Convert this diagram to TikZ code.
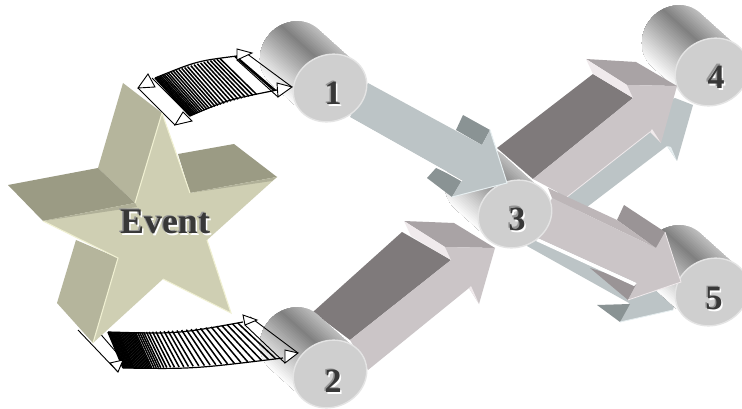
\documentclass[tikz,border=0pt]{standalone}
\usepackage{fontspec}
\setmainfont{Liberation Serif}
\definecolor{starfront}{HTML}{CFCFB3}
\definecolor{startop}{HTML}{B5B59C}
\definecolor{starside}{HTML}{9B9B84}
\definecolor{staredge}{HTML}{F0F0D2}
\definecolor{starband}{HTML}{B0B098}
\definecolor{bluefront}{HTML}{BCC4C6}
\definecolor{blueside}{HTML}{8A9394}
\definecolor{blueedge}{HTML}{E6EEF0}
\definecolor{pinkfront}{HTML}{CBC5C7}
\definecolor{pinkdark}{HTML}{7F7A7B}
\definecolor{pinkhead}{HTML}{A9A3A5}
\definecolor{pinkside}{HTML}{9A9496}
\definecolor{pinkband}{HTML}{BDB6B8}
\definecolor{pinkedge}{HTML}{F0EAEC}
\definecolor{cylface}{HTML}{CFCFCF}
\definecolor{cylrim}{HTML}{E4E4E4}
\tikzset{
  rimline/.style={draw=cylrim,fill=cylface,line width=1.4pt},
  ribbar/.style={draw=black,line width=0.9pt,line join=miter},
  ribtip/.style={draw=black,fill=white,line width=0.9pt},
  ribline/.style={draw=black,line width=1.5pt},
  ribedge/.style={draw=black,line width=1.2pt},
  txtfont/.style={font=\bfseries\fontsize{#1}{#1}\selectfont,inner sep=0pt},
}
% cylinder body: the front face is centred on (cx,cy)
\newcommand{\cylbody}[2]{%
  \begin{scope}[shift={(#1,#2)},rotate=48]
    \clip (36pt,0pt) -- (36pt,48pt) arc[start angle=0,end angle=180,x radius=36pt,y radius=33pt] -- (-36pt,0pt) -- cycle;
    \foreach \i in {0,...,37}{
      \pgfmathsetmacro{\tt}{\i/37}
      \pgfmathsetmacro{\lev}{\tt<0.3 ? 0.74-0.24*\tt/0.3 : 0.5+0.5*(\tt-0.3)/0.7}
      \pgfmathsetmacro{\pct}{100*(1-\lev)}
      \pgfmathsetmacro{\xx}{36-72*\tt}
      \fill[black!\pct!white] (\xx pt,-8pt) rectangle (-42pt,90pt);
    }
  \end{scope}}
\newcommand{\cylface}[2]{%
  \path[rimline,shift={(#1,#2)},rotate=25] (0pt,0pt) ellipse[x radius=37.5pt,y radius=33pt];}
% label with its two shadows
\newcommand{\shadowlabel}[5]{% name, x, y, size, text
  \node[txtfont=#4,text=white] (#1w) at (#2+1.5,#3+2) {#5};
  \node[txtfont=#4,text=black!42] (#1g) at (#2-1.5,#3-1.2) {#5};
  \node[txtfont=#4,text=black!78] (#1) at (#2,#3) {#5};}
% ribbon: upper curve P0 P1 P2, lower curve Q0 Q1 Q2, list of t
\newcommand{\ribbon}[7]{%
  \foreach \t in {#7}{
    \path (#1) coordinate (pa) (#2) coordinate (pb) (#3) coordinate (pc)
          (#4) coordinate (qa) (#5) coordinate (qb) (#6) coordinate (qc);
    \draw[ribline]
      ($(pa)!\t!(pb)!\t!($(pb)!\t!(pc)$)$) -- ($(qa)!\t!(qb)!\t!($(qb)!\t!(qc)$)$);
  }
  \draw[ribedge] (#1) .. controls (#2) .. (#3);
  \draw[ribedge] (#4) .. controls (#5) .. (#6);}
\usetikzlibrary{calc}
\begin{document}
\begin{tikzpicture}[x=1pt,y=-1pt]
\clip (0,0) rectangle (742,409);
\fill[white] (0,0) rectangle (742,409);

% blue arrow towards 4 (behind)
\fill[bluefront] (530,225) -- (587,207) -- (667,146) -- (677,161) -- (693,105) -- (675,98) -- (640,110) -- (560,190) -- cycle;
\fill[blueedge] (667,146) -- (677,161) -- (671,147) -- cycle;
% blue arrow towards 5 (behind)
\fill[bluefront] (533,235) -- (527,246) -- (629,303) -- (620,322) -- (673,310) -- (680,282) -- (640,260) -- cycle;
\fill[blueside] (597,305) -- (630,304) -- (620,322) -- cycle;
\draw[blueedge,line width=0.8pt] (620,322) -- (673,310);

\cylbody{712}{72}
\cylface{712}{72}
\cylbody{712}{292}
\cylface{712}{292}

% arrow 3 -> 4
\fill[pinkdark] (593,74) -- (633,98) -- (533,179) -- (497,148) -- cycle;
\fill[pinkhead] (586,59) -- (636,62) -- (677,86) -- (627,85) -- cycle;
\fill[pinkedge] (586,59) -- (627,85) -- (633,98) -- (593,74) -- cycle;
\fill[pinkfront] (677,86) -- (627,85) -- (633,98) -- (533,179) -- (567,197) -- (650,132) -- (661,143) -- cycle;
\fill[pinkedge] (650,132) -- (661,143) -- (652,129) -- cycle;
\draw[pinkedge,line width=0.8pt] (567,197) -- (650,132);

% arrow 2 -> 3
\fill[pinkdark] (402,232) -- (451,260) -- (350,340) -- (313,312) -- cycle;
\fill[pinkhead] (404,221) -- (454,223) -- (495,248) -- (445,247) -- cycle;
\fill[pinkedge] (404,221) -- (445,247) -- (451,260) -- (411,236) -- cycle;
\fill[pinkfront] (495,248) -- (445,247) -- (451,260) -- (350,340) -- (368,370) -- (469,288) -- (479,304) -- cycle;
\fill[pinkedge] (469,288) -- (479,304) -- (471,286) -- cycle;

% arrow 3 -> 5
\fill[pinkside] (624,205) -- (665,232) -- (656,248) -- (617,220) -- cycle;
\fill[pinkside] (590,268) -- (637,283) -- (628,300) -- cycle;
\fill[pinkband] (548,188) -- (617,220) -- (656,248) -- (552,198) -- cycle;
\fill[white] (538,238) -- (637,283) -- (634,286) -- (536,241) -- cycle;
\fill[pinkfront] (552,198) -- (656,248) -- (665,232) -- (681,282) -- (628,300) -- (637,283) -- (538,238) -- cycle;
\draw[pinkedge,line width=0.8pt] (665,232) -- (681,282) -- (628,300);

\cylbody{515}{214}
\cylface{515}{214}

% arrow 1 -> 3
\fill[blueside] (463,115) -- (490,130) -- (482,145) -- (456,130) -- cycle;
\fill[blueside] (436,168) -- (462,180) -- (452,197) -- (427,178) -- cycle;
\fill[bluefront] (368,83) -- (482,145) -- (490,130) -- (507,183) -- (452,197) -- (462,180) -- (350,117) -- cycle;
\draw[blueedge,line width=1pt] (490,130) -- (507,183) -- (452,197);
\draw[white,line width=1pt] (350,118) -- (462,181);

\cylbody{330}{88}
\cylface{330}{88}
\cylbody{330}{374}
\cylface{330}{374}

% upper ribbon
\draw[ribbar] (138,88) -- (175,125) (152,78) -- (190,116);
\ribbon{155,78}{197,61}{237,56}{190,116}{227,100}{277,90}{0,0.012,0.025,0.04,0.055,0.07,0.09,0.11,0.135,0.16,0.19,0.22,0.25,0.285,0.32,0.355,0.39,0.43,0.47,0.51,0.55,0.59,0.63,0.67,0.71,0.75,0.79,0.97,0.985}
\draw[ribtip] (148,74) -- (138,88) -- (155,87) -- cycle;
\draw[ribtip] (183,112) -- (175,125) -- (192,121) -- cycle;
\draw[ribbar] (237,60) -- (278,97) (246,53) -- (292,87);
\draw[ribtip] (237,49) -- (237,60) -- (252,53) -- cycle;
\draw[ribtip] (277,83) -- (278,97) -- (292,87) -- cycle;

% lower ribbon
\draw[ribbar] (78,330) -- (118,372) (90,322) -- (123,360);
\ribbon{108,332}{177,334}{243,322}{123,368}{193,369}{283,358}{0,0.008,0.016,0.024,0.032,0.04,0.048,0.056,0.064,0.072,0.08,0.09,0.1,0.11,0.12,0.13,0.14,0.15,0.16,0.17,0.18,0.19,0.2,0.215,0.23,0.245,0.26,0.28,0.3,0.325,0.35,0.38,0.41,0.44,0.47,0.505,0.54,0.575,0.61,0.645,0.68,0.72,0.76,0.8,0.84,0.88,0.92,0.96}
\draw[ribtip] (110,363) -- (118,372) -- (123,360) -- cycle;
\draw[ribbar] (245,325) -- (285,363) (250,317) -- (298,353);
\draw[ribtip] (243,315) -- (245,325) -- (257,320) -- cycle;
\draw[ribtip] (285,350) -- (285,363) -- (298,353) -- cycle;

% star
\fill[startop] (123,83) -- (98,168) -- (135,203) -- (162,113) -- cycle;
\fill[starside] (8,185) -- (98,168) -- (135,203) -- (43,221) -- cycle;
\fill[starside] (178,154) -- (234,144) -- (277,177) -- (190,193) -- cycle;
\fill[startop] (76,240) -- (118,258) -- (93,343) -- (57,303) -- cycle;
\fill[starfront] (162,113) -- (190,193) -- (277,177) -- (207,240) -- (231,313) -- (163,279) -- (93,343) -- (118,258) -- (43,221) -- (135,203) -- cycle;
\fill[starband] (43,221) -- (135,203) -- (137,207) -- cycle;
\fill[starband] (190,193) -- (277,177) -- (272,181) -- cycle;
\draw[staredge,line width=1.1pt] (162,113) -- (135,203) (162,113) -- (190,193) (43,221) -- (118,258) -- (93,343) (207,240) -- (231,313) -- (163,279);

% labels
\shadowlabel{event}{165}{222}{36}{Event}
\shadowlabel{one}{333}{93}{34}{1}
\shadowlabel{two}{333}{381}{34}{2}
\shadowlabel{three}{517}{219}{34}{3}
\shadowlabel{four}{716}{77}{34}{4}
\shadowlabel{five}{714}{299}{34}{5}
\end{tikzpicture}
\end{document}
